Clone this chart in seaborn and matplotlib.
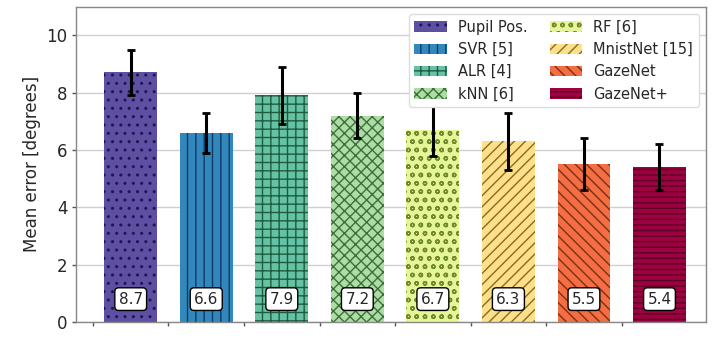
import matplotlib
matplotlib.use("Agg")
import matplotlib.pyplot as plt
import seaborn as sns
import numpy as np

methods = ["Pupil Pos.", "SVR [5]", "ALR [4]", "kNN [6]", "RF [6]", "MnistNet [15]", "GazeNet", "GazeNet+"]
mean_err = [8.7, 6.6, 7.9, 7.2, 6.7, 6.3, 5.5, 5.4]
err = [0.8, 0.7, 1.0, 0.8, 0.9, 1.0, 0.9, 0.8]
colors = ["#5e4fa2", "#3288bd", "#66c2a5", "#abdda4", "#e6f598", "#fee08b", "#f46d43", "#9e0142"]
hatch_colors = ["#1e1650", "#0f3a66", "#1f5c3e", "#3f6e3a", "#6f8a2a", "#8a6a20", "#7a3015", "#5a0020"]
hatches = ["..", "||", "++", "xxx", "oo", "///", "\\\\\\", "---"]

sns.set_theme(style="whitegrid")
plt.rcParams["font.family"] = ["DejaVu Sans"]
plt.rcParams["hatch.linewidth"] = 1.0

fig = plt.figure(figsize=(7.2, 3.43), dpi=100)
ax = fig.add_axes([0.106, 0.061, 0.875, 0.92])

sns.barplot(x=methods, y=mean_err, hue=methods, palette=colors, legend=False,
            width=0.7, ax=ax, errorbar=None, saturation=1)

bars = list(ax.patches)
for b, h, hc in zip(bars, hatches, hatch_colors):
    b.set_hatch(h)
    b.set_edgecolor(hc)
    b.set_linewidth(0)

xs = np.arange(len(methods))
ax.errorbar(xs, mean_err, yerr=err, fmt="none", ecolor="black", elinewidth=2.2, capsize=3, capthick=2, zorder=5)

for x, v in zip(xs, mean_err):
    ax.text(x, 0.8, f"{v}", ha="center", va="center", fontsize=11, zorder=6,
            bbox=dict(boxstyle="round,pad=0.25", facecolor="white", edgecolor="black", linewidth=1))

ax.set_ylim(0, 11)
ax.set_xlim(-0.72, 7.62)
ax.set_yticks([0, 2, 4, 6, 8, 10])
ax.set_xticks(xs - 0.5)
ax.set_xticklabels([])
ax.grid(axis="x", visible=False)
ax.grid(axis="y", color="#d0d0d0", linewidth=1)
ax.set_axisbelow(True)
ax.tick_params(axis="both", which="both", length=3, width=1, color="#555555", bottom=True, left=True, labelsize=12)
for s in ax.spines.values():
    s.set_color("#888888")
    s.set_linewidth(1)
ax.set_ylabel("Mean error [degrees]", fontsize=12)

ax.legend(handles=bars, labels=methods, ncol=2, loc="upper right", fontsize=10.5,
          frameon=True, framealpha=1, edgecolor="#dddddd", handlelength=2.2,
          columnspacing=1.5, borderaxespad=0.5)

fig.savefig("out.png", dpi=100)
